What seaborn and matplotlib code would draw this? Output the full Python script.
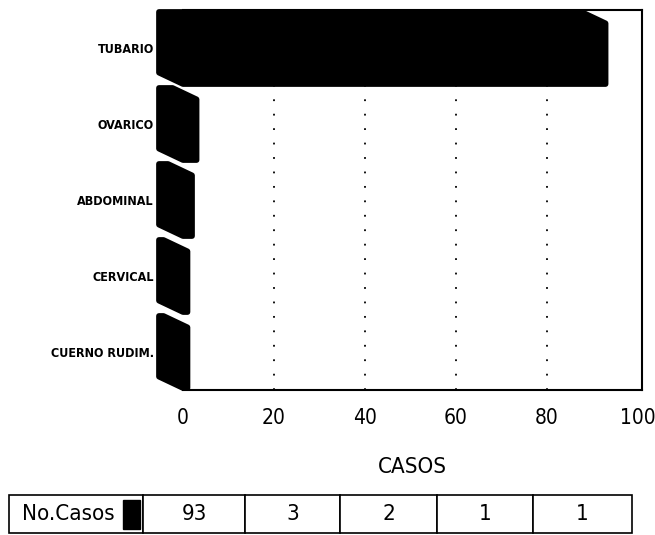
import matplotlib
matplotlib.use("Agg")
import matplotlib.pyplot as plt
import seaborn as sns
import pandas as pd
from matplotlib.patches import Polygon, Rectangle

# Data
tipos = ["TUBARIO", "OVARICO", "ABDOMINAL", "CERVICAL", "CUERNO RUDIM."]
casos = [93, 3, 2, 1, 1]
x_ticks = [0, 20, 40, 60, 80, 100]
eje_x = "CASOS"
serie = "No.Casos"

sns.set_theme(style="white")
plt.rcParams["font.family"] = ["DejaVu Sans"]
plt.rcParams["font.stretch"] = "condensed"

df = pd.DataFrame({"tipo": tipos, "casos": casos})

W, H = 655, 535
fig = plt.figure(figsize=(W / 100, H / 100), dpi=100)
ax = fig.add_axes([183 / W, 1 - 390 / H, (642 - 183) / W, (390 - 10) / H])

sns.barplot(data=df, x="casos", y="tipo", orient="h", color="black",
            saturation=1, width=0.8, ax=ax)

ax.set_xlim(0, 101)
ax.set_xticks(x_ticks)

# Extrude each bar with a skewed depth face (3D look)
dx, dy = 5.3, 0.15
for p in list(ax.patches):
    x0, y0 = p.get_x(), p.get_y()
    w, h = p.get_width(), p.get_height()
    verts = [
        (x0 - dx, y0 - dy / 2),
        (x0 + w - dx, y0 - dy / 2),
        (x0 + w, y0 + dy / 2),
        (x0 + w, y0 + h + dy / 2),
        (x0, y0 + h + dy / 2),
        (x0 - dx, y0 + h - dy / 2),
    ]
    p.set_visible(False)
    ax.add_patch(Polygon(verts, closed=True, facecolor="black",
                         edgecolor="black", linewidth=4, joinstyle="round",
                         clip_on=False, zorder=3))

# Dotted vertical grid on the inner ticks
ax.grid(axis="x", color="black", linestyle=(0, (1, 7)), linewidth=1.3)
ax.grid(axis="y", visible=False)
gl = ax.get_xgridlines()
gl[0].set_visible(False)
gl[-1].set_visible(False)
ax.set_axisbelow(True)

for side in ["top", "right", "bottom"]:
    ax.spines[side].set_color("black")
    ax.spines[side].set_linewidth(1.5)
ax.spines["left"].set_visible(False)

ax.tick_params(axis="x", length=0, pad=13, labelsize=15, colors="black")
ax.tick_params(axis="y", length=0, pad=21, labelsize=9, colors="black")
for t in ax.get_yticklabels():
    t.set_fontweight("bold")
ax.set_ylabel("")
ax.set_xlabel(eje_x, fontsize=16, labelpad=21, color="black")

# Data table below the chart
tax = fig.add_axes([9 / W, 1 - 533 / H, (632 - 9) / W, (533 - 495) / H])
tax.axis("off")
col_w = [134, 102, 95, 97, 96, 99]
tot = sum(col_w)
tbl = tax.table(cellText=[[serie] + [str(v) for v in casos]],
                colWidths=[c / tot for c in col_w],
                cellLoc="center", bbox=[0, 0, 1, 1])
tbl.auto_set_font_size(False)
for (r, c), cell in tbl.get_celld().items():
    cell.set_linewidth(1.2)
    cell.set_edgecolor("black")
    cell.get_text().set_fontsize(16)
    cell.get_text().set_color("black")
first = tbl[0, 0]
first.get_text().set_horizontalalignment("left")
first.PAD = 0.1
tax.add_patch(Rectangle(((123 - 9) / 623, 0.1), 17 / 623, 0.78,
                        facecolor="black", edgecolor="black",
                        transform=tax.transAxes, zorder=5))

fig.savefig("out.png", dpi=100)
